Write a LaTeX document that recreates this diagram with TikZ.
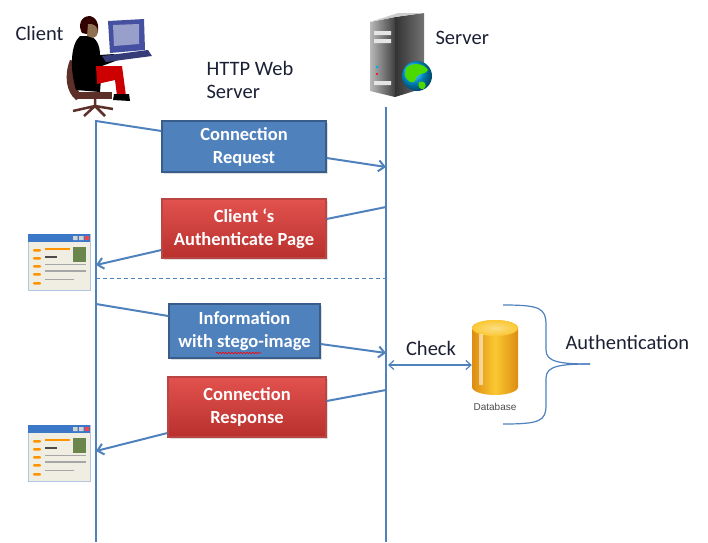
\documentclass[tikz,border=0pt]{standalone}
\usepackage{fontspec}
\setmainfont{Carlito}
\newfontfamily\arialfont{Liberation Sans}
\usetikzlibrary{positioning}
\usetikzlibrary{arrows.meta,shadows,decorations.pathmorphing}

\definecolor{lineblue}{RGB}{79,129,189}
\definecolor{boxblue}{RGB}{79,129,189}
\definecolor{boxblueedge}{RGB}{56,93,138}
\definecolor{boxredtop}{RGB}{226,82,78}
\definecolor{boxredbot}{RGB}{184,48,45}
\definecolor{boxrededge}{RGB}{185,70,66}
\definecolor{inktext}{RGB}{28,32,52}
\definecolor{dbyellow}{RGB}{250,200,50}
\definecolor{dborange}{RGB}{222,140,18}
\definecolor{pagebg}{RGB}{240,238,226}
\definecolor{pagebar}{RGB}{60,120,200}
\definecolor{chairbrown}{RGB}{92,48,40}
\definecolor{monblue}{RGB}{70,80,160}

\begin{document}
\begin{tikzpicture}[
        x=1pt, y=-1pt,
        >={Straight Barb[length=6pt,width=11pt]},
        lifeline/.style={draw=lineblue, line width=1.7pt},
        msg/.style={draw=lineblue, line width=2pt},
        label/.style={text=inktext, font=\fontsize{20.5}{23}\selectfont},
        reqbox/.style={draw=boxblueedge, line width=1.2pt, fill=boxblue,
                    text=white, align=center, inner sep=0pt,
                    font=\fontsize{18.5}{23}\selectfont\bfseries,
                    drop shadow={opacity=0.25, shadow xshift=1.5pt, shadow yshift=-1.5pt}},
        resbox/.style={reqbox, draw=boxrededge, top color=boxredtop, bottom color=boxredbot},
        webpage/.pic={
            \draw[draw=lineblue!45, line width=0.8pt, fill=pagebg] (0,0) rectangle (62,56);
            \fill[pagebar] (0,0) rectangle (62,8);
            \fill[gray!35] (45,2) rectangle (49.5,6) (51,2) rectangle (55.5,6);
            \fill[red!75] (57,2) rectangle (61,6);
            \foreach \yy in {15,23,31,39,48}
                \fill[orange!85!yellow, rounded corners=1pt] (5,\yy) rectangle (13,\yy+2.6);
            \fill[orange!85!yellow] (17,14) rectangle (42,16);
            \fill[black!65!yellow!70!green] (45,13) rectangle (58,28);
            \fill[black!70] (17,22) rectangle (29,23.6);
            \fill[gray!70] (17,29.5) rectangle (58,31);
            \fill[gray!70] (17,36) rectangle (58,37.5);
            \fill[gray!70] (17,44.5) rectangle (46,46);
        }
    ]
    \useasboundingbox (0,0) rectangle (708,542);

    % ------- client and server -------
    \node[label, anchor=west] (client) at (12,33) {Client};
    \node[label, anchor=west, align=left] (http) at (203,79.5) {HTTP Web\\Server};
    \node[label, anchor=west] (server) at (432,38) {Server};

    % person at the desk
    \fill[chairbrown] (70,60) .. controls (64,75) and (66,92) .. (76,100) -- (82,97) .. controls (74,86) and (74,72) .. (78,62) -- cycle;
    \fill[chairbrown] (78,92) rectangle (112,99);
    \draw[chairbrown, line width=2.5pt] (95,99) -- (95,106)
        (95,106) -- (73,111) (95,106) -- (84,116) (95,106) -- (105,116) (95,106) -- (113,109);
    \fill[black] (80,36) .. controls (70,45) and (70,70) .. (76,90) -- (100,92) -- (102,66)
        -- (118,60) -- (114,54) -- (100,55) .. controls (100,45) and (96,38) .. (90,36) -- cycle;
    \fill[red!80!black] (96,66) -- (122,66) -- (126,96) -- (117,96) -- (115,80) -- (97,84) -- cycle;
    \fill[black] (114,94) -- (129,94) -- (130,101) -- (113,100) -- cycle;
    \fill[black!80!red] (90,16) .. controls (80,16) and (78,26) .. (82,33) -- (96,36)
        .. controls (100,30) and (99,18) .. (90,16) -- cycle;
    \fill[black!40!brown!80!white] (88,24) .. controls (100,23) and (100,36) .. (93,38) -- (87,36) -- cycle;
    % monitor and keyboard
    \fill[monblue] (108,21) -- (144,19) -- (145,50) -- (110,53) -- cycle;
    \fill[monblue!55!white] (113,25) -- (139,24) -- (139,44) -- (114,46) -- cycle;
    \fill[monblue!75!black] (102,56) -- (148,50) -- (152,56) -- (106,62) -- cycle;

    % server tower
    \shade[left color=gray!55, right color=black!75] (370,22) -- (395,17) -- (395,97) -- (370,91) -- cycle;
    \shade[left color=black!80, right color=black!55] (395,17) -- (424,13) -- (424,88) -- (395,97) -- cycle;
    \fill[gray!40] (370,22) -- (398,13) -- (424,13) -- (395,17) -- cycle;
    \fill[gray!20] (374,31) rectangle (391,35) (374,39) rectangle (391,43) (374,81) rectangle (391,85);
    \fill[cyan] (377,67) circle[radius=1.5pt];
    \fill[red] (377,74) circle[radius=1.2pt];
    \shade[ball color=cyan!70!blue] (417,76) circle[radius=15pt];
    \fill[green!65!yellow!85!black] (406,68) .. controls (412,62) and (424,63) .. (428,70)
        .. controls (424,76) and (418,72) .. (416,78) .. controls (414,86) and (408,82) .. (405,76) -- cycle;
    \fill[green!65!yellow!85!black] (419,82) .. controls (424,80) and (428,84) .. (424,89) .. controls (420,90) and (417,86) .. (419,82) -- cycle;

    % ------- lifelines -------
    \coordinate (cli top) at (96,120);
    \coordinate (cli bot) at (96,542);
    \coordinate (srv top) at (386,107);
    \coordinate (srv bot) at (386,542);
    \draw[lifeline] (cli top) -- (cli bot);
    \draw[lifeline] (srv top) -- (srv bot);

    % ------- messages -------
    \node[reqbox, minimum width=164pt, minimum height=51pt] (req) at (244,146.5) {Connection\\Request};
    \node[resbox, minimum width=164pt, minimum height=59pt] (authpage) at (244,228.5) {Client ‘s\\Authenticate Page};
    \node[reqbox, minimum width=151pt, minimum height=54pt] (info) at (244.5,331) {Information\\with stego-image};
    \node[resbox, minimum width=158pt, minimum height=60pt] (resp) at (247,407) {Connection\\Response};
    \draw[red, line width=0.6pt, decorate, decoration={snake, amplitude=0.8pt, segment length=3pt}]
        (216,353) -- (261,353);

    \coordinate (c1) at (96,121);
    \coordinate (s1) at (386,167);
    \coordinate (s2) at (386,207);
    \coordinate (c2) at (96,265);
    \coordinate (c3) at (96,304);
    \coordinate (s3) at (386,353);
    \coordinate (s4) at (386,390);
    \coordinate (c4) at (96,451);

    \draw[msg] (c1) -- ([yshift=15.5pt]req.west);
    \draw[msg, ->] ([yshift=-11.5pt]req.east) -- (s1);
    \draw[msg] (s2) -- ([yshift=9.5pt]authpage.east);
    \draw[msg, ->] ([yshift=-21.5pt]authpage.west) -- (c2);
    \draw[msg] (c3) -- ([yshift=15pt]info.west);
    \draw[msg, ->] ([yshift=-13pt]info.east) -- (s3);
    \draw[msg] (s4) -- ([yshift=6pt]resp.east);
    \draw[msg, ->] ([yshift=-26pt]resp.west) -- (c4);

    % dashed separator between the two phases
    \coordinate (sep l) at (96,278);
    \coordinate (sep r) at (386,278);
    \draw[lineblue, line width=1pt, dash pattern=on 4pt off 3pt] (sep l) -- (sep r);

    % browser pages on the client side
    \pic (page1) at (28,234) {webpage};
    \pic (page2) at (28,425) {webpage};

    % ------- database check -------
    \node[minimum width=46pt, minimum height=75pt, inner sep=0pt] (db) at (495,357) {};
    \shade[left color=dborange, right color=dborange, middle color=dbyellow]
        (472,328) -- (472,387) arc[start angle=180, end angle=360, x radius=23pt, y radius=8pt]
        -- (518,328) arc[start angle=0, end angle=180, x radius=23pt, y radius=8pt] -- cycle;
    \shade[inner color=dbyellow!60!white, outer color=dbyellow] (495,328) ellipse[x radius=23pt, y radius=8pt];
    \fill[white, opacity=0.55] (479,334) rectangle (483,385);
    \node[below=8pt of db, inner sep=0pt, text=black!70, font=\arialfont\fontsize{10}{11}\selectfont] (dblabel) {Database};

    \coordinate (chk) at (388,365);
    \draw[draw=lineblue, line width=1.2pt, <->, >={Straight Barb[length=5pt,width=9pt]}] (chk) -- (db.west |- chk);
    \node[label] (check) at (431,348) {Check};

    % brace around the database
    \coordinate (brace top) at (503,305);
    \coordinate (brace tip) at (590,364);
    \coordinate (brace bot) at (503,424);
    \draw[lineblue, line width=1.2pt] (brace top) .. controls (540,305) and (546,308) .. (546,325)
        -- (546,350) .. controls (546,362) and (560,364) .. (brace tip);
    \draw[lineblue, line width=1.2pt] (brace tip) .. controls (560,364) and (546,366) .. (546,378)
        -- (546,405) .. controls (546,421) and (540,424) .. (brace bot);
    \node[label, anchor=west] (auth) at (562,342) {Authentication};

\end{tikzpicture}
\end{document}
